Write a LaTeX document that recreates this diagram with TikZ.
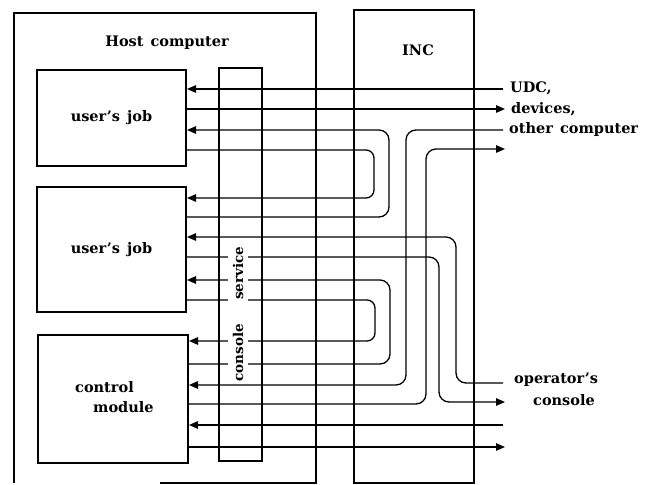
\documentclass[tikz,border=0pt]{standalone}
\usepackage{fontspec}
\setmainfont{DejaVu Serif}[WordSpace=1.4]
\newfontfamily\rotfont{DejaVu Serif}
\usetikzlibrary{arrows.meta,calc}
\begin{document}
\begin{tikzpicture}[x=1pt,y=-1pt,
  frame/.style={draw,line width=2.4pt,inner sep=0pt},
  box/.style={draw,line width=2pt,inner sep=0pt,font=\bfseries\fontsize{14.5}{18}\selectfont},
  conn/.style={line width=1.3pt},
  arr/.style={conn,-{Triangle[length=9pt,width=7.5pt]}},
  lbl/.style={font=\bfseries\fontsize{14.5}{18}\selectfont,inner sep=0pt},
  ]
\useasboundingbox (0,0) rectangle (649,485);
% frames
\node[inner sep=0pt, minimum width=302pt, minimum height=470pt] (host) at (165,248) {};
\draw[line width=2.4pt] ($(host.south west)+(146,0)$) -- (host.south east) -- (host.north east) -- (host.north west) -- (host.south west);
\node[frame, minimum width=120pt, minimum height=473pt] (inc) at (414,246.5) {};
% boxes
\node[box, minimum width=149pt, minimum height=96pt] (job1) at (111.5,118) {user's job};
\node[box, minimum width=149pt, minimum height=125pt] (job2) at (111.5,249.5) {user's job};
\node[box, minimum width=150pt, minimum height=128pt] (ctrl) at (113,399) {};
\node[box, minimum width=43pt, minimum height=393pt] (cons) at (240.5,264.5) {};
% labels
\node[lbl,anchor=base] (hostl) at (167,46) {Host computer};
\node[lbl,anchor=base] (incl) at (418,55) {INC};
\node[lbl,anchor=base west] (ctl1) at (75,392) {control};
\node[lbl,anchor=base west] (ctl2) at (93,412) {module};
\node[lbl,anchor=base west] (udcl) at (510,92) {UDC,};
\node[lbl,anchor=base west] (devl) at (511,113) {devices,};
\node[lbl,anchor=base west] (ocl) at (509,133) {other computer};
\node[lbl,anchor=base west] (opl) at (514,383) {operator's};
\node[lbl,anchor=base west] (opl2) at (533,405) {console};
% coordinates
\coordinate (udc) at (503,89);
\coordinate (dev) at (505,109);
\coordinate (oci) at (503,130);
\coordinate (oco) at (505,149);
\coordinate (opi) at (503,383);
\coordinate (opo) at (505,402);
\coordinate (xi) at (503,425);
\coordinate (xo) at (505,447);
\coordinate (l1a) at (374,150); \coordinate (l1b) at (374,198);
\coordinate (l1c) at (389,130); \coordinate (l1d) at (389,217);
\coordinate (l2a) at (375,300); \coordinate (l2b) at (375,341);
\coordinate (l2c) at (390,280); \coordinate (l2d) at (390,364);
\coordinate (v1) at (406,385);
\coordinate (v2t) at (426,149); \coordinate (v2b) at (426,404);
\coordinate (v3t) at (456,237);
\coordinate (v4t) at (439,257); \coordinate (v4b) at (439,402);
% connectors
\draw[arr] (udc) -- (job1.east |- udc);
\draw[arr] (job1.east |- dev) -- (dev);
\draw[arr,rounded corners=8pt] (job1.east |- l1a) -| (l1b) -- (job2.east |- l1b);
\draw[arr,rounded corners=10pt] (job2.east |- l1d) -| (l1c) -- (job1.east |- l1c);
\draw[arr,rounded corners=10pt] (opi) -| (v3t) -- (job2.east |- v3t);
\draw[arr,rounded corners=10pt] (job2.east |- v4t) -| (v4b) -- (opo);
\draw[arr,rounded corners=8pt] (job2.east |- l2a) -| (l2b) -- (ctrl.east |- l2b);
\draw[arr,rounded corners=10pt] (ctrl.east |- l2d) -| (l2c) -- (job2.east |- l2c);
\draw[arr,rounded corners=10pt] (oci) -| (v1) -- (ctrl.east |- v1);
\draw[arr,rounded corners=10pt] (ctrl.east |- v2b) -| (v2t) -- (oco);
\draw[arr] (xi) -- (ctrl.east |- xi);
\draw[arr] (ctrl.east |- xo) -- (xo);
% rotated label
\node[fill=white, rotate=90, inner xsep=1pt, inner ysep=4.8pt, font=\rotfont\bfseries\fontsize{13.5}{18}\selectfont] (consl) at (238,314) {console\hspace{24pt}service};
\end{tikzpicture}
\end{document}
